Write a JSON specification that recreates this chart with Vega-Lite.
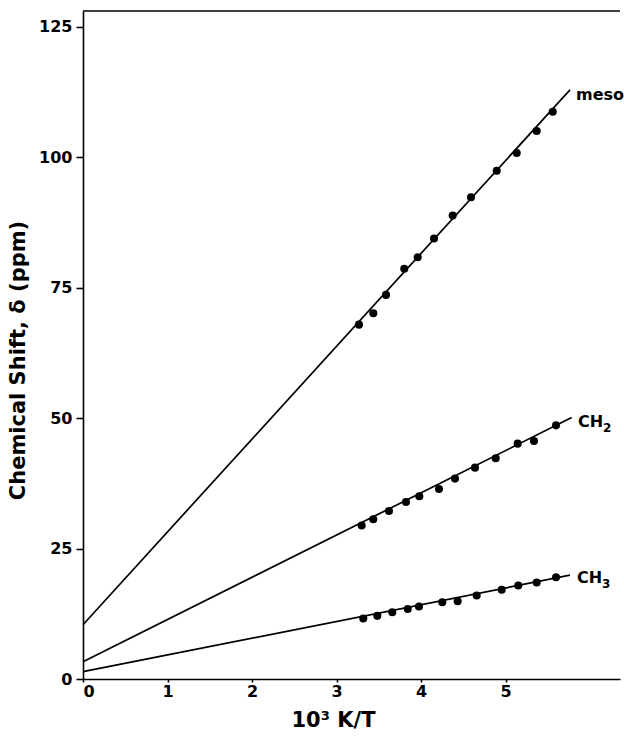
{
  "$schema": "https://vega.github.io/schema/vega-lite/v6.json",
  "width": 537,
  "height": 668,
  "autosize": "none",
  "padding": {"left": 83, "top": 11, "right": 4, "bottom": 57},
  "background": "white",
  "config": {
    "view": {"stroke": null},
    "font": "DejaVu Sans",
    "axis": {
      "grid": false,
      "domainColor": "black",
      "domainWidth": 1.6,
      "tickColor": "black",
      "tickWidth": 1.6,
      "labelColor": "black",
      "labelFont": "DejaVu Sans",
      "labelFontSize": 16,
      "labelFontWeight": "bold",
      "titleColor": "black",
      "titleFont": "DejaVu Sans",
      "titleFontSize": 21,
      "titleFontWeight": "bold"
    }
  },
  "datasets": {
    "points": [
      {"series": "meso", "x": 3.266, "y": 67.9},
      {"series": "meso", "x": 3.436, "y": 70.1},
      {"series": "meso", "x": 3.586, "y": 73.6},
      {"series": "meso", "x": 3.802, "y": 78.6},
      {"series": "meso", "x": 3.961, "y": 80.8},
      {"series": "meso", "x": 4.154, "y": 84.4},
      {"series": "meso", "x": 4.375, "y": 88.8},
      {"series": "meso", "x": 4.592, "y": 92.3},
      {"series": "meso", "x": 4.896, "y": 97.4},
      {"series": "meso", "x": 5.133, "y": 100.8},
      {"series": "meso", "x": 5.369, "y": 105.0},
      {"series": "meso", "x": 5.559, "y": 108.7},
      {"series": "CH2", "x": 3.298, "y": 29.4},
      {"series": "CH2", "x": 3.435, "y": 30.6},
      {"series": "CH2", "x": 3.621, "y": 32.2},
      {"series": "CH2", "x": 3.822, "y": 33.9},
      {"series": "CH2", "x": 3.980, "y": 35.0},
      {"series": "CH2", "x": 4.213, "y": 36.4},
      {"series": "CH2", "x": 4.402, "y": 38.4},
      {"series": "CH2", "x": 4.639, "y": 40.5},
      {"series": "CH2", "x": 4.884, "y": 42.3},
      {"series": "CH2", "x": 5.144, "y": 45.1},
      {"series": "CH2", "x": 5.337, "y": 45.6},
      {"series": "CH2", "x": 5.598, "y": 48.6},
      {"series": "CH3", "x": 3.317, "y": 11.6},
      {"series": "CH3", "x": 3.483, "y": 12.1},
      {"series": "CH3", "x": 3.660, "y": 12.8},
      {"series": "CH3", "x": 3.843, "y": 13.4},
      {"series": "CH3", "x": 3.976, "y": 13.9},
      {"series": "CH3", "x": 4.252, "y": 14.7},
      {"series": "CH3", "x": 4.434, "y": 14.9},
      {"series": "CH3", "x": 4.659, "y": 16.0},
      {"series": "CH3", "x": 4.955, "y": 17.1},
      {"series": "CH3", "x": 5.151, "y": 17.9},
      {"series": "CH3", "x": 5.369, "y": 18.5},
      {"series": "CH3", "x": 5.598, "y": 19.5}
    ],
    "lines": [
      {"series": "meso", "x": 0, "y": 10.4},
      {"series": "meso", "x": 5.763, "y": 112.9},
      {"series": "CH2", "x": 0, "y": 3.3},
      {"series": "CH2", "x": 5.783, "y": 50.1},
      {"series": "CH3", "x": 0, "y": 1.4},
      {"series": "CH3", "x": 5.763, "y": 19.9}
    ],
    "labels": [
      {"label": "meso", "x": 5.834, "y": 110.9},
      {"label": "CH", "x": 5.858, "y": 48.3},
      {"label": "CH", "x": 5.846, "y": 18.4}
    ],
    "subs": [
      {"sub": "2", "x": 5.858, "y": 48.3},
      {"sub": "3", "x": 5.846, "y": 18.4}
    ]
  },
  "layer": [
    {
      "data": {"name": "lines"},
      "mark": {"type": "line", "color": "black", "strokeWidth": 1.7},
      "encoding": {
        "x": {
          "field": "x", "type": "quantitative",
          "scale": {"domain": [0, 6.355], "nice": false, "zero": false},
          "axis": {
            "values": [0, 1, 2, 3, 4, 5],
            "format": "d",
            "tickSize": 3,
            "labelPadding": 1,
            "title": "10³ K/T",
            "titlePadding": 10,
            "titleX": 250
          }
        },
        "y": {
          "field": "y", "type": "quantitative",
          "scale": {"domain": [0, 128], "nice": false},
          "axis": {
            "values": [0, 25, 50, 75, 100, 125],
            "format": "d",
            "tickSize": 7,
            "labelPadding": 4,
            "title": "Chemical Shift, δ (ppm)",
            "titlePadding": 10,
            "titleY": 349
          }
        },
        "detail": {"field": "series"}
      }
    },
    {
      "data": {"name": "points"},
      "mark": {"type": "point", "filled": true, "color": "black", "opacity": 1, "size": 65},
      "encoding": {
        "x": {"field": "x", "type": "quantitative"},
        "y": {"field": "y", "type": "quantitative"}
      }
    },
    {
      "data": {"name": "labels"},
      "mark": {"type": "text", "align": "left", "baseline": "alphabetic", "fontSize": 16, "fontWeight": "bold", "font": "DejaVu Sans", "color": "black"},
      "encoding": {
        "x": {"field": "x", "type": "quantitative"},
        "y": {"field": "y", "type": "quantitative"},
        "text": {"field": "label"}
      }
    },
    {
      "data": {"name": "subs"},
      "mark": {"type": "text", "align": "left", "baseline": "alphabetic", "fontSize": 12, "fontWeight": "bold", "font": "DejaVu Sans", "color": "black", "dx": 25, "dy": 5},
      "encoding": {
        "x": {"field": "x", "type": "quantitative"},
        "y": {"field": "y", "type": "quantitative"},
        "text": {"field": "sub"}
      }
    },
    {
      "data": {"values": [{}]},
      "mark": {"type": "rule", "color": "black", "strokeWidth": 1.6},
      "encoding": {"y": {"datum": 128}}
    }
  ]
}
